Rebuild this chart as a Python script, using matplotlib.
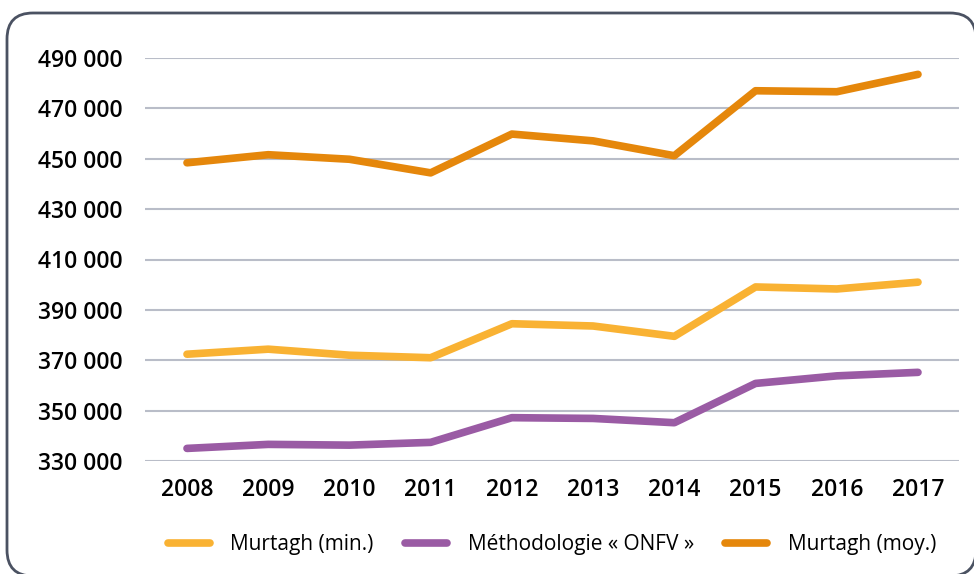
import matplotlib
matplotlib.use('Agg')
import matplotlib.pyplot as plt
from matplotlib.patches import FancyBboxPatch
from matplotlib.ticker import FuncFormatter

years = [2008, 2009, 2010, 2011, 2012, 2013, 2014, 2015, 2016, 2017]
murtagh_min = [372400, 374400, 372000, 371000, 384500, 383600, 379500, 399100, 398300, 401000]
onfv = [335000, 336600, 336300, 337400, 347200, 346900, 345200, 360800, 363800, 365200]
murtagh_moy = [448400, 451600, 449800, 444400, 459800, 457100, 451200, 477000, 476600, 483500]
yticks = [330000, 350000, 370000, 390000, 410000, 430000, 450000, 470000, 490000]

plt.rcParams['font.family'] = ['Open Sans', 'DejaVu Sans']

fig = plt.figure(figsize=(9.74, 5.74), dpi=100)

# rounded frame drawn in pixel units on a background axes
bg = fig.add_axes([0, 0, 1, 1])
bg.set_xlim(0, 974); bg.set_ylim(574, 0); bg.axis('off')
bg.add_patch(FancyBboxPatch((7, 13), 969, 563, boxstyle='round,pad=0,rounding_size=26',
                            fc='white', ec='#4b5262', lw=2))

ax = fig.add_axes([145/974, 1 - 461/574, (959 - 145)/974, (461 - 58)/574])
ax.patch.set_alpha(0)
kw = dict(lw=5.5, solid_capstyle='round', solid_joinstyle='round')
ax.plot(years, murtagh_min, color='#F9B233', label='Murtagh (min.)', **kw)
ax.plot(years, onfv, color='#9A5BA4', label='Méthodologie « ONFV »', **kw)
ax.plot(years, murtagh_moy, color='#E5870B', label='Murtagh (moy.)', **kw)

ax.set_xlim(2007.483, 2017.505)
ax.set_ylim(330000, 490000)
ax.set_yticks(yticks)
ax.set_xticks(years)
ax.yaxis.set_major_formatter(FuncFormatter(lambda v, p: f'{int(v):,}'.replace(',', ' ')))
ax.grid(True, axis='y', color='#B9BDC8', lw=1.5)
ax.set_axisbelow(True)
for s in ax.spines.values():
    s.set_visible(False)
ax.tick_params(length=0, labelsize=16.5)
ax.tick_params(axis='y', pad=16)
ax.tick_params(axis='x', pad=12)
for lab in ax.get_xticklabels() + ax.get_yticklabels():
    lab.set_fontweight('semibold')

ax.legend(loc='center', bbox_to_anchor=(0.5, -0.208), ncol=3, frameon=False,
          fontsize=15, handlelength=2.0, handletextpad=1.0, columnspacing=1.5)

fig.savefig('out.png', dpi=100)
